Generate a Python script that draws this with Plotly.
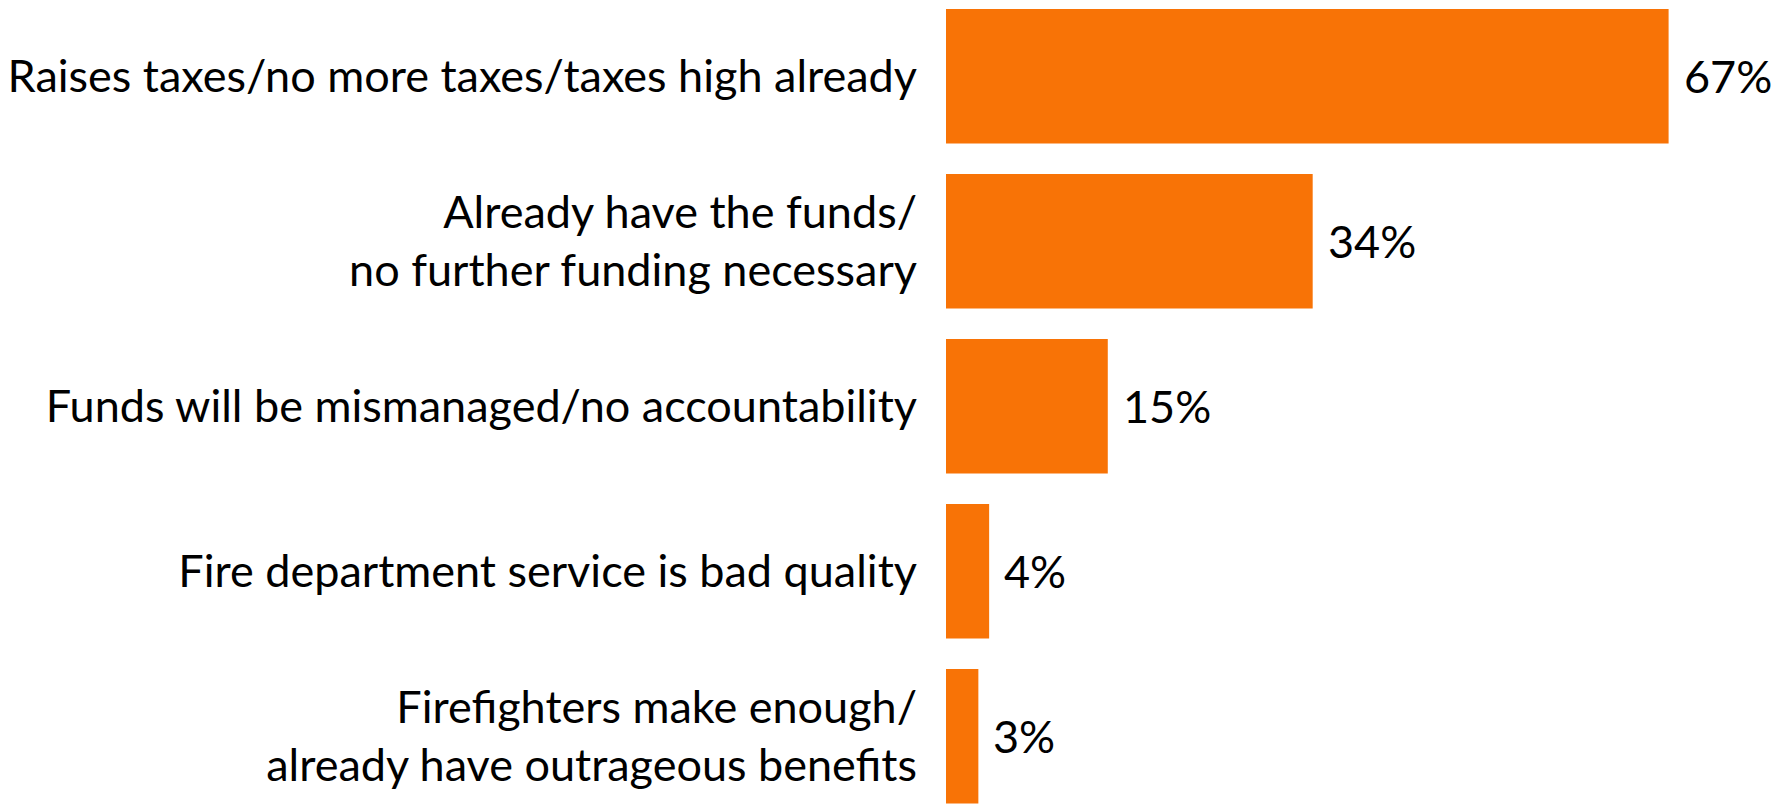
import plotly.graph_objects as go

# reasons for opposing the measure
reasons = [
    "Raises taxes/no more taxes/taxes high already",
    "Already have the funds/<br>no further funding necessary",
    "Funds will be mismanaged/no accountability",
    "Fire department service is bad quality",
    "Firefighters make enough/<br>already have outrageous benefits",
]
pct = [67, 34, 15, 4, 3]
pct_labels = ["67%", "34%", "15%", "4%", "3%"]

orange = "#F87306"
font = dict(family="Lato, 'Open Sans', sans-serif", size=45, color="#000000")

fig = go.Figure(go.Bar(
    x=pct, y=reasons, orientation="h",
    marker=dict(color=orange, line=dict(width=0)),
    hoverinfo="skip",
))

# value labels just past the end of each bar
for r, v, t in zip(reasons, pct, pct_labels):
    fig.add_annotation(x=v, y=r, text=t, showarrow=False,
                       xanchor="left", yanchor="middle", xshift=13,
                       font=font)

# page body has an 8px margin, so the figure is nudged up/left by that much
fig.update_layout(
    width=1787, height=805,
    margin=dict(l=938, r=0, t=0, b=0),
    paper_bgcolor="white", plot_bgcolor="white",
    bargap=0.185,
    showlegend=False,
    font=font,
    xaxis=dict(range=[0, 78.72], visible=False, fixedrange=True),
    yaxis=dict(
        type="category",
        categoryorder="array", categoryarray=reasons,
        range=[4.465, -0.414],
        showgrid=False, zeroline=False, showline=False,
        ticks="", ticklabelstandoff=28,
        tickfont=font, fixedrange=True,
    ),
)

fig.write_html("out.html", config={"displayModeBar": False})
